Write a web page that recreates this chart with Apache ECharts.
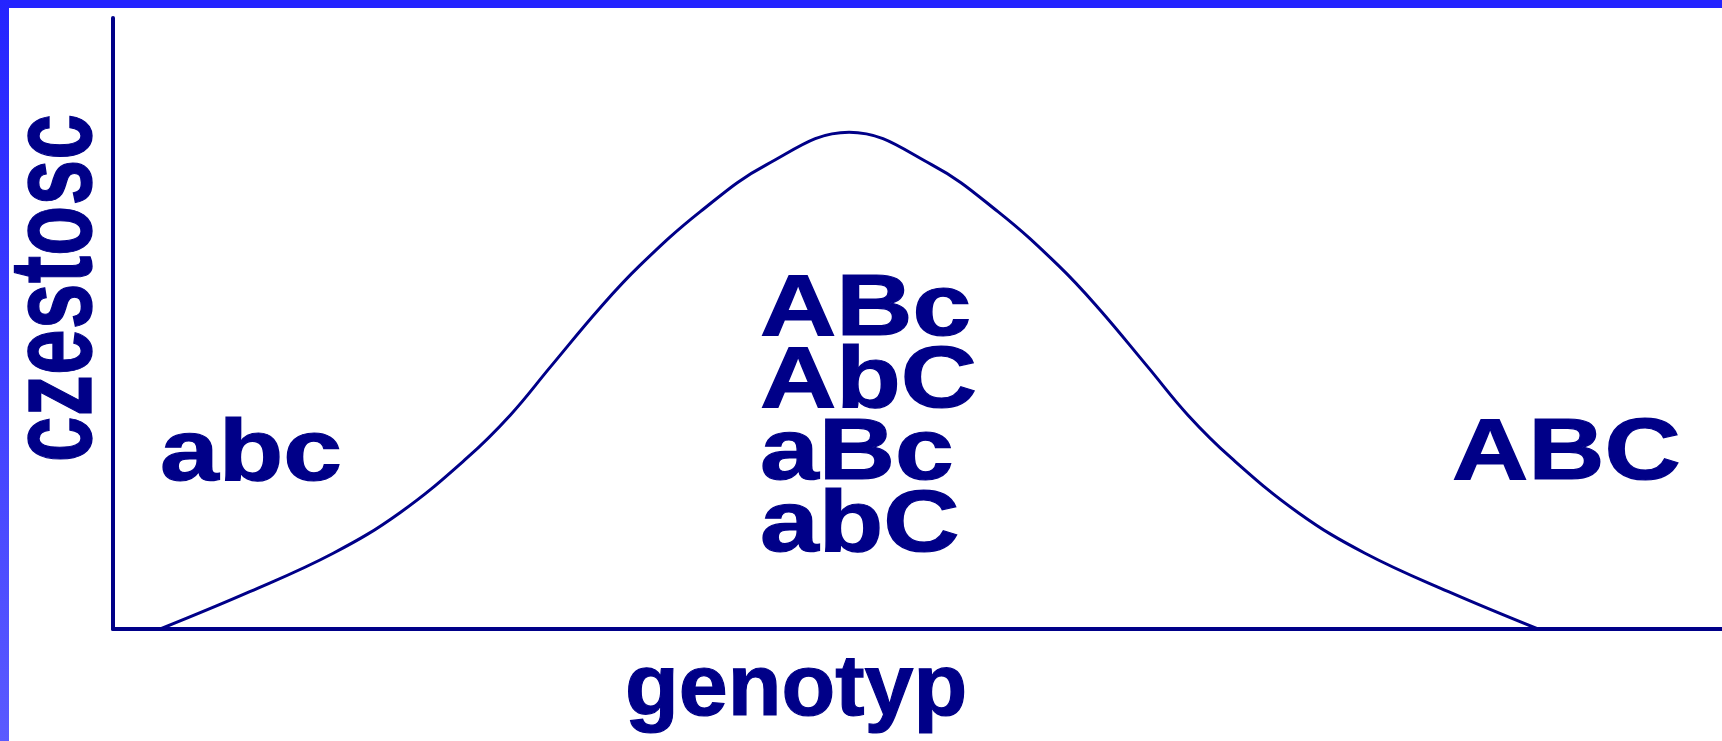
<!DOCTYPE html>
<html>
<head>
<meta charset="utf-8">
<title>genotyp</title>
<script src="https://cdn.jsdelivr.net/npm/echarts@6.0.0/dist/echarts.min.js"></script>
<style>
  html, body { margin: 0; padding: 0; background: #fff; }
  #chart { width: 1722px; height: 741px; }
</style>
</head>
<body>
<div id="chart"></div>
<script>
// curve (genotype axis 0-160, frequency 0-100)
const curveX = [4.7, 13.6, 21.9, 28.5, 35.2, 39.5, 43.5, 48.4, 52.4, 58.4, 65.0, 73.2,
                81.4, 88.0, 94.0, 98.0, 102.9, 106.9, 111.2, 117.9, 124.5, 132.8, 141.7];
const curveY = [0, 6.1, 12.4, 19.0, 28.0, 35.0, 42.9, 52.5, 59.5, 68.3, 76.0, 81.3,
                76.0, 68.3, 59.5, 52.5, 42.9, 35.0, 28.0, 19.0, 12.4, 6.1, 0];

const leftLabels = ['abc'];
const middleLabels = ['ABc', 'AbC', 'aBc', 'abC'];
const rightLabels = ['ABC'];
const xName = 'genotyp';
const yName = 'czestosc';

const navy = '#000088';
const font = 'bold 88px "Liberation Sans", Arial, sans-serif';
const midOffset = 30; // alphabetic baseline sits ~0.35em below the middle line

function label(text, x, baseline, sx) {
    return {
        type: 'text',
        x: x,
        y: baseline - midOffset,
        scaleX: sx,
        z: 10,
        style: {
            text: text,
            font: font,
            fill: navy,
            stroke: navy,
            lineWidth: 1.2,
            textAlign: 'left',
            textVerticalAlign: 'middle',
            align: 'left',
            verticalAlign: 'middle'
        }
    };
}

const chart = echarts.init(document.getElementById('chart'), null, { renderer: 'canvas' });

const graphics = [
    // frame on top and left
    { type: 'rect', shape: { x: 0, y: 0, width: 1722, height: 8 }, style: { fill: '#2424ff' }, z: 20 },
    {
        type: 'rect', shape: { x: 0, y: 0, width: 9, height: 741 }, z: 20,
        style: {
            fill: new echarts.graphic.LinearGradient(0, 0, 0, 1, [
                { offset: 0, color: '#2424ff' },
                { offset: 1, color: '#5a5aff' }
            ])
        }
    },
    label(leftLabels[0], 160, 486, 1.2),
    label(rightLabels[0], 1452, 485, 1.2)
];
middleLabels.forEach((t, i) => graphics.push(label(t, 760, 341 + i * 72, 1.2)));

// axis names
graphics.push(label(xName, 625, 721, 1.0));
graphics.push({
    type: 'text', x: 59, y: 288, rotation: Math.PI / 2, scaleX: 0.97, scaleY: 1.38, z: 10,
    style: {
        text: yName, font: 'bold 85px "Liberation Sans", Arial, sans-serif',
        fill: navy, stroke: navy, lineWidth: 1,
        textAlign: 'center', textVerticalAlign: 'middle', align: 'center', verticalAlign: 'middle'
    }
});

const axisCommon = {
    type: 'value',
    axisLine: { show: true, onZero: false, lineStyle: { color: navy, width: 4 } },
    axisTick: { show: false },
    axisLabel: { show: false },
    splitLine: { show: false }
};

chart.setOption({
    backgroundColor: '#ffffff',
    animation: false,
    grid: { left: 113, right: 0, top: 18, bottom: 112, containLabel: false },
    xAxis: Object.assign({}, axisCommon, { min: 0, max: 160 }),
    yAxis: Object.assign({}, axisCommon, { min: 0, max: 100 }),
    series: [
        {
            type: 'line',
            data: curveX.map((x, i) => [x, curveY[i]]),
            symbol: 'none',
            smooth: 0.4,
            lineStyle: { color: navy, width: 3 }
        }
    ],
    graphic: graphics
});
</script>
</body>
</html>
